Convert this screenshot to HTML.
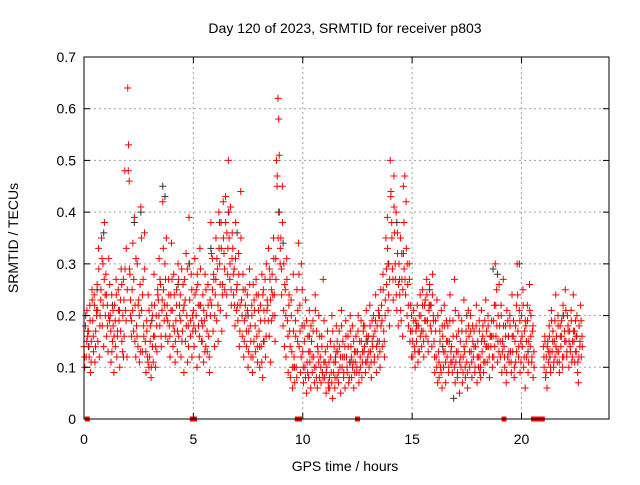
<!DOCTYPE html>
<html><head><meta charset="utf-8"><style>
body{margin:0;background:#fff;}
svg text{font-family:"Liberation Sans",sans-serif;font-size:14px;fill:#000;}
</style></head><body>
<svg id="chart" width="640" height="480" xmlns="http://www.w3.org/2000/svg">
<text x="345" y="33" text-anchor="middle">Day 120 of 2023, SRMTID for receiver p803</text>
<text x="345" y="471" text-anchor="middle">GPS time / hours</text>
<text transform="translate(18,238) rotate(-90)" text-anchor="middle">SRMTID / TECUs</text>
<g id="grid"></g><g id="marks"></g><g id="axes"></g>
</svg>
<script>
const binStart = 0, binWidth = 0.2;
const redBins = [
[14,10,18,12,21,16],[17,12,22,9,15,25],[19,13,24,11,17,21],[26,15,33,12,20,23],[35,18,30,14,38,24],
[28,16,22,13,31,19],[20,11,24,15,18,9],[22,14,27,12,17,25],[19,10,23,29,15,13],[27,16,48,21,33,12],
[64,53,46,28,20,16],[25,34,17,39,22,12],[18,30,14,23,11,26],[41,21,13,27,16,36],[15,9,19,12,24,10],
[12,18,8,22,14,11],[28,16,10,20,13,25],[23,31,18,26,14,21],[42,25,19,30,16,35],[22,15,27,18,12,24],
[34,21,14,28,17,11],[19,25,13,30,16,22],[24,12,29,17,21,9],[27,15,32,20,11,18],[39,23,16,28,12,20],
[21,14,31,17,25,10],[26,18,12,33,22,15],[15,24,11,19,28,14],[20,13,26,16,9,23],[38,22,31,17,27,14],
[24,35,19,29,15,40],[30,21,38,17,26,42],[32,25,43,20,36,28],[50,35,27,41,22,31],[33,24,29,18,38,21],
[26,19,32,14,22,44],[23,16,28,12,19,25],[20,14,24,10,17,29],[18,12,22,9,26,15],[21,13,27,16,11,24],
[17,10,22,14,28,8],[25,15,19,12,30,21],[22,33,16,27,11,19],[28,20,35,24,15,31],[50,47,62,58,40,30],
[35,24,45,18,30,14],[25,12,31,19,9,22],[17,8,23,13,6,28],[12,7,19,10,25,15],[34,14,22,9,30,18],
[13,7,18,10,23,5],[11,16,8,21,13,6],[15,9,19,12,7,24],[10,17,6,13,20,8],[12,7,16,9,27,11],
[8,13,5,10,17,7],[11,6,15,9,20,4],[9,14,6,11,18,8],[13,7,17,10,5,21],[10,15,8,12,6,19],
[12,9,16,7,11,20],[14,8,18,11,6,13],[11,16,9,13,20,7],[15,10,19,8,13,17],[13,18,9,21,11,15],
[16,10,22,13,8,19],[14,20,11,17,24,9],[18,12,21,15,10,25],[22,14,28,17,12,20],[35,26,39,21,30,18],
[50,44,38,29,23,47],[36,27,40,21,32,18],[30,24,35,19,27,16],[45,29,47,24,33,20],[26,18,30,15,22,12],
[17,12,21,14,10,19],[15,22,11,18,13,24],[20,14,25,17,12,22],[23,16,27,19,13,21],[26,18,22,14,28,20],
[15,9,19,12,23,7],[13,8,17,10,21,6],[16,10,22,13,7,19],[12,18,9,15,24,11],[14,9,19,12,27,7],
[11,16,8,13,20,5],[15,10,19,7,12,23],[13,8,17,11,6,21],[16,10,20,13,8,18],[12,17,9,14,22,7],
[15,10,19,12,8,21],[13,18,9,15,11,23],[17,11,20,14,8,16],[14,19,10,16,12,22],[30,16,25,11,20,13],
[18,12,22,9,15,27],[14,10,18,7,21,12],[16,11,20,13,9,24],[13,19,8,15,11,22],[30,17,12,21,9,15],
[20,14,25,10,17,6],[18,12,22,9,15,26],[14,20,11,17,8,13],[],[],
[14,10,16,8,12,6],[15,11,18,13,9,21],[13,17,10,15,12,24],[16,11,20,13,9,18],[14,19,10,22,12,17],
[25,15,12,20,17,10],[17,13,21,11,15,24],[15,11,19,13,20,9],[7,18,14,22,12,16]
];
const redBins2 = [
[12,20,15,17],[14,19,11,23],[16,22,14,20],[21,29,18,25],[31,22,27,20],
[24,18,20,26],[17,13,21,16],[19,24,16,21],[21,17,26,20],[23,29,19,25],
[48,29,23,19],[21,27,15,31],[16,22,20,13],[35,24,18,29],[13,17,11,21],
[15,10,20,16],[22,14,18,24],[20,27,16,23],[33,22,27,20],[19,24,16,21],
[27,18,24,15],[22,17,27,20],[19,15,26,22],[23,18,29,14],[30,19,25,17],
[18,24,20,28],[22,16,29,19],[18,21,13,25],[17,22,12,20],[32,25,28,20],
[27,31,22,33],[26,33,24,35],[29,38,24,33],[40,30,25,36],[28,22,31,25],
[22,28,17,35],[20,25,15,22],[17,21,13,26],[15,20,12,23],[18,24,14,21],
[14,19,11,24],[21,27,16,23],[19,29,23,25],[24,31,20,27],[45,35,51,33],
[29,38,21,26],[20,27,16,24],[14,20,10,17],[10,16,8,21],[28,17,12,25],
[10,15,8,19],[9,13,11,18],[12,17,10,21],[8,14,11,16],[10,14,8,19],
[11,9,14,6],[8,12,7,17],[11,8,13,15],[9,14,12,18],[12,9,14,16],
[10,14,8,17],[12,10,15,9],[13,10,17,9],[12,15,11,18],[14,11,16,12],
[13,18,11,15],[16,12,19,14],[15,20,13,18],[19,25,15,23],[29,33,24,27],
[43,35,27,41],[30,24,36,26],[27,21,32,25],[38,27,42,30],[22,27,17,20],
[15,19,13,17],[18,13,20,16],[17,22,15,19],[19,24,15,22],[22,17,24,19],
[12,17,10,20],[11,15,9,18],[13,18,11,15],[15,10,19,13],[11,16,10,21],
[13,9,17,11],[12,17,9,14],[10,15,9,18],[13,17,11,15],[14,10,18,12],
[12,17,10,15],[16,11,19,14],[14,18,12,16],[16,12,19,14],[22,18,15,26],
[15,20,13,18],[12,16,9,19],[13,18,11,16],[16,10,18,13],[24,14,19,11],
[16,22,12,19],[15,19,11,21],[16,12,18,10],[],[],
[12,15,9,14],[13,16,10,19],[15,11,19,14],[13,18,11,16],[16,12,20,15],
[21,13,18,15],[14,19,12,17],[17,13,16,11],[12,15,19,14]
];
const blackT = [0.2,0.6,0.9,1.3,1.8,2.3,2.6,3.1,3.6,3.7,4.3,4.8,5.3,5.8,6.2,6.6,7.0,7.5,8.2,8.9,9.1,9.6,10.3,10.9,11.5,12.2,12.9,13.5,13.9,14.3,14.6,15.2,15.8,16.4,16.9,17.5,18.1,18.7,18.9,19.4,19.9,20.3,21.3,21.9,22.5];
const blackV = [0.14,0.25,0.36,0.22,0.12,0.38,0.4,0.19,0.45,0.43,0.26,0.3,0.22,0.33,0.38,0.4,0.36,0.2,0.15,0.4,0.34,0.1,0.16,0.09,0.12,0.11,0.15,0.2,0.3,0.38,0.32,0.18,0.25,0.14,0.04,0.2,0.09,0.29,0.28,0.16,0.3,0.13,0.12,0.2,0.16];
const zeroT = [0.15,4.95,5.05,9.75,9.85,12.5,19.2,20.55,20.7,20.85,20.95];
const xTicks = [0,5,10,15,20];
const yTicks = [0,0.1,0.2,0.3,0.4,0.5,0.6,0.7];

const L=84,R=609,T=57,B=419,XMAX=24,YMAX=0.7;
const xs=v=>L+(R-L)*v/XMAX, ys=v=>B-(B-T)*v/YMAX;
const NS="http://www.w3.org/2000/svg";
function mk(tag,attrs,parent){const e=document.createElementNS(NS,tag);for(const k in attrs)e.setAttribute(k,attrs[k]);parent.appendChild(e);return e;}
const grid=document.getElementById('grid'),axes=document.getElementById('axes'),marks=document.getElementById('marks');
yTicks.forEach(v=>{
  if(v>0&&v<YMAX){const g=mk('line',{x1:L,x2:R,y1:ys(v),y2:ys(v),stroke:'#a0a0a0','stroke-dasharray':'2,3'},grid);
  
  }
  const t=mk('text',{x:L-8,y:ys(v)+5,'text-anchor':'end'},axes);t.textContent=String(v);
  
  
  mk('line',{x1:L,x2:L+6,y1:ys(v),y2:ys(v),stroke:'#000'},axes);
  mk('line',{x1:R,x2:R-6,y1:ys(v),y2:ys(v),stroke:'#000'},axes);
});
xTicks.forEach(v=>{
  if(v>0){const g=mk('line',{x1:xs(v),x2:xs(v),y1:T,y2:B,stroke:'#a0a0a0','stroke-dasharray':'2,3'},grid);
  
  }
  const t=mk('text',{x:xs(v),y:B+25,'text-anchor':'middle'},axes);t.textContent=String(v);
  
  
  mk('line',{x1:xs(v),x2:xs(v),y1:B,y2:B-6,stroke:'#000'},axes);
  mk('line',{x1:xs(v),x2:xs(v),y1:T,y2:T+6,stroke:'#000'},axes);
});
const frame=mk('rect',{x:L,y:T,width:R-L,height:B-T,fill:'none',stroke:'#000'},axes);


function plus(x,y,c,name){const p=mk('path',{d:`M${x-3.5} ${y}h7M${x} ${y-3.5}v7`,stroke:c,'stroke-width':1,fill:'none'},marks);
  
  }
blackT.forEach((t,i)=>plus(xs(t),ys(blackV[i]),'#333','black-point'));
redBins.forEach((bin,i)=>{bin.forEach((v,k)=>{const t=binStart+i*binWidth+k*binWidth/bin.length;plus(xs(t),ys(v/100),'#f00','red-point');});});
redBins2.forEach((bin,i)=>{bin.forEach((v,k)=>{const t=binStart+i*binWidth+(k+0.5)*binWidth/bin.length;plus(xs(t),ys(v/100),'#f00','red-point');});});
zeroT.forEach(t=>{const r=mk('rect',{x:xs(t)-2.5,y:B-2.5,width:5,height:5,fill:'#f00'},marks);
  
  });
</script>
</body></html>
